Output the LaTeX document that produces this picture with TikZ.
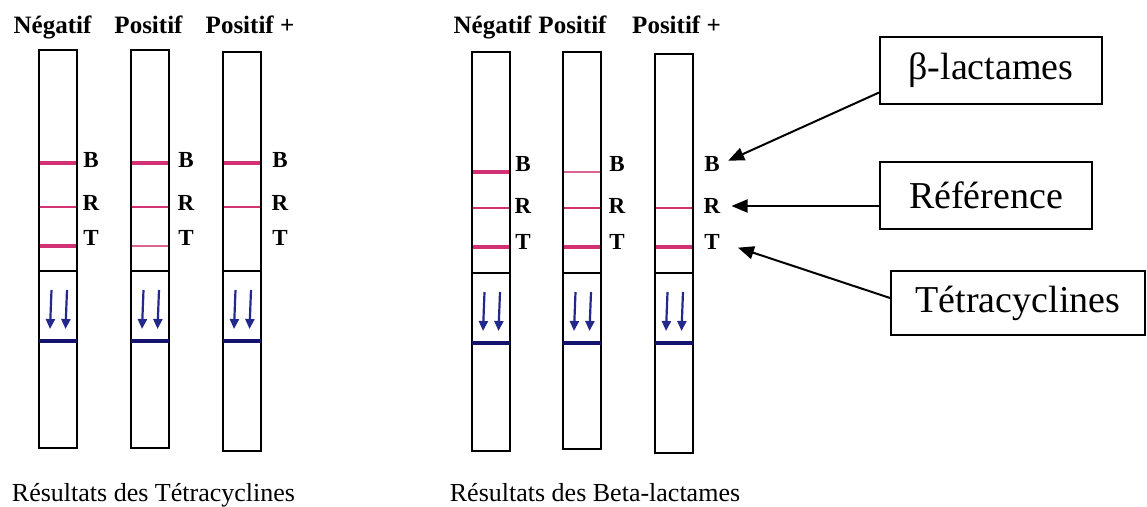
\documentclass[tikz,border=0pt]{standalone}
\usepackage{fontspec}
\setmainfont{Liberation Serif}
\usetikzlibrary{arrows.meta}
\definecolor{pinkc}{RGB}{210,50,115}
\definecolor{navyc}{RGB}{20,20,110}
\definecolor{arrowc}{RGB}{35,40,140}
\tikzset{
  stripbox/.style={draw=black,line width=1.6pt},
  strongband/.style={draw=pinkc,line width=4pt},
  midband/.style={draw=pinkc,line width=2.8pt},
  faintband/.style={draw=pinkc!75,line width=1.5pt},
  noband/.style={draw=none},
  divline/.style={draw=black,line width=1.4pt},
  blueline/.style={draw=navyc,line width=3.2pt},
  flowarrow/.style={draw=arrowc,line width=2.2pt,-{Triangle[length=10pt,width=9pt]}},
  letter/.style={font=\fontsize{23}{23}\selectfont\bfseries,inner sep=1pt},
  header/.style={font=\fontsize{25}{25}\selectfont\bfseries,anchor=base},
  caption/.style={font=\fontsize{26}{26}\selectfont,anchor=base},
  labelbox/.style={draw=black,line width=1.8pt,minimum height=67pt,font=\fontsize{38}{38}\selectfont,inner sep=0pt},
  callout/.style={draw=black,line width=2pt,-{Triangle[length=16pt,width=13pt]}}
}
% #1 name, #2 left x, #3 top y, #4 bottom y, #5 label x, #6 B style, #7 R style, #8 T style
\newcommand\mystrip[8]{%
  \draw[stripbox] (#2,#3) rectangle (#2+38,#4);
  \draw[#6] (#2+1,\yB) -- (#2+37,\yB);
  \draw[#7] (#2+1,\yR) -- (#2+37,\yR);
  \draw[#8] (#2+1,\yT) -- (#2+37,\yT);
  \draw[divline] (#2,\yD) -- (#2+38,\yD);
  \draw[blueline] (#2,\yL) -- (#2+38,\yL);
  \draw[flowarrow] (#2+12.5,\yA) -- (#2+11,\yZ);
  \draw[flowarrow] (#2+28,\yA) -- (#2+26.5,\yZ);
  \node[letter] (#1B) at (#5,\lB) {B};
  \node[letter] (#1R) at (#5,\lR) {R};
  \node[letter] (#1T) at (#5,\lT) {T};
}
\begin{document}
\begin{tikzpicture}[x=1pt,y=-1pt]
\useasboundingbox (0,0) rectangle (1147,506);
% left group
\def\yB{163}\def\yR{207}\def\yT{246}\def\yD{271}\def\yL{341}\def\yA{290}\def\yZ{329}
\def\lB{160}\def\lR{203}\def\lT{238}
\mystrip{l1}{39}{50}{448}{91}{strongband}{midband}{strongband}
\mystrip{l2}{131}{50}{448}{186}{strongband}{midband}{faintband}
\mystrip{l3}{223}{52}{451}{280}{strongband}{midband}{noband}
\node[header] (lh1) at (52.5,33) {Négatif};
\node[header] (lh2) at (148.5,33) {Positif};
\node[header] (lh3) at (250,33) {Positif +};
\node[caption] (lcap) at (153.5,501) {Résultats des Tétracyclines};
% right group
\def\yB{172}\def\yR{208}\def\yT{247}\def\yD{273}\def\yL{343}\def\yA{292}\def\yZ{331}
\def\lB{164}\def\lR{206}\def\lT{242}
\mystrip{r1}{472}{52}{451}{523}{strongband}{midband}{strongband}
\mystrip{r2}{563}{52}{449}{617}{faintband}{midband}{strongband}
\mystrip{r3}{655}{54}{453}{712}{noband}{midband}{strongband}
\node[header] (rh1) at (492.5,33) {Négatif};
\node[header] (rh2) at (572.5,33) {Positif};
\node[header] (rh3) at (676.5,33) {Positif +};
\node[caption] (rcap) at (595,501) {Résultats des Beta-lactames};
% label boxes
\node[labelbox,minimum width=222pt] (bl) at (991,70.5) {β-lactames};
\node[labelbox,minimum width=212pt] (ref) at (986,195.5) {Référence};
\node[labelbox,minimum width=254pt,minimum height=64pt] (tet) at (1018,303) {Tétracyclines};
\draw[callout,shorten >=8pt] ([yshift=-22pt]bl.west) -- (r3B.east);
\draw[callout,shorten >=10pt] (ref.west |- r3R.east) -- (r3R.east);
\draw[callout,shorten >=18pt] ([yshift=5pt]tet.west) -- (r3T.east);
\end{tikzpicture}
\end{document}
